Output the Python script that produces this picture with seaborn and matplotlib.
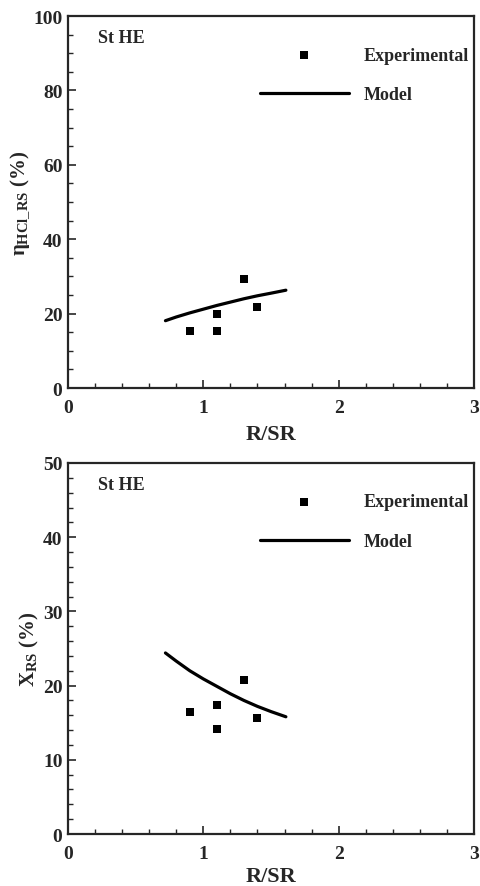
import numpy as np
import pandas as pd
import seaborn as sns
import matplotlib.pyplot as plt
from matplotlib.ticker import MultipleLocator

# Experimental points (R/SR)
exp_rsr = [0.9, 1.1, 1.1, 1.3, 1.4]
eta_exp = [15.4, 19.8, 15.2, 29.3, 21.8]
x_exp = [16.4, 17.4, 14.1, 20.7, 15.7]

# Model curves
model_rsr = [0.72, 0.8, 0.9, 1.0, 1.1, 1.2, 1.3, 1.4, 1.5, 1.61]
eta_model = [18.1, 19.1, 20.2, 21.2, 22.2, 23.1, 24.0, 24.8, 25.5, 26.3]
x_model = [24.4, 23.3, 22.0, 20.9, 19.9, 18.9, 18.0, 17.2, 16.5, 15.8]

sns.set_style("ticks")
plt.rcParams['font.family'] = ['Liberation Serif', 'DejaVu Serif']
plt.rcParams['font.weight'] = 'bold'
plt.rcParams['mathtext.fontset'] = 'custom'
plt.rcParams['mathtext.rm'] = 'Liberation Serif:bold'
plt.rcParams['mathtext.it'] = 'Liberation Serif:bold'

fig = plt.figure(figsize=(4.81, 8.87), dpi=100)
ax1 = fig.add_axes([0.1414, 0.5614, 0.844, 0.4194])
ax2 = fig.add_axes([0.1414, 0.0586, 0.844, 0.4183])

panels = [
    (ax1, eta_exp, eta_model, 100, 20, 5, r"$\eta_{\mathrm{HCl\_RS}}$ (%)", 6),
    (ax2, x_exp, x_model, 50, 10, 2, r"$\mathrm{X}_{\mathrm{RS}}$ (%)", 3),
]

for ax, yexp, ymod, ymax, major, minor, ylab, xpad in panels:
    exp_df = pd.DataFrame({"R/SR": exp_rsr, "val": yexp})
    mod_df = pd.DataFrame({"R/SR": model_rsr, "val": ymod})
    sns.scatterplot(data=exp_df, x="R/SR", y="val", ax=ax, marker="s", s=26,
                    color="black", edgecolor="black", linewidth=0, label="Experimental",
                    zorder=3)
    sns.lineplot(data=mod_df, x="R/SR", y="val", ax=ax, color="black", linewidth=2.3,
                 label="Model")
    ax.set_xlim(0, 3)
    ax.set_ylim(0, ymax)
    ax.xaxis.set_major_locator(MultipleLocator(1))
    ax.xaxis.set_minor_locator(MultipleLocator(0.2))
    ax.yaxis.set_major_locator(MultipleLocator(major))
    ax.yaxis.set_minor_locator(MultipleLocator(minor))
    ax.tick_params(which="major", direction="in", length=6, width=1.2,
                   labelsize=14, pad=4)
    ax.tick_params(axis="x", which="major", pad=8)
    ax.tick_params(which="minor", direction="in", length=3.5, width=1.0)
    for lab in ax.get_xticklabels() + ax.get_yticklabels():
        lab.set_fontweight("bold")
    for sp in ax.spines.values():
        sp.set_linewidth(1.6)
        sp.set_visible(True)
    ax.set_xlabel("R/SR", fontsize=16, fontweight="bold", labelpad=xpad)
    ax.set_ylabel(ylab, fontsize=15, fontweight="bold", labelpad=1)
    ax.text(0.074, 0.942, "St HE", transform=ax.transAxes, fontsize=13,
            fontweight="bold", va="center", ha="left")
    handles, labels = ax.get_legend_handles_labels()
    ax.legend(handles, labels, loc="upper left", bbox_to_anchor=(0.473, 0.918),
              frameon=False, handlelength=4.9, handletextpad=0.83,
              labelspacing=1.25, borderpad=0, borderaxespad=0, scatterpoints=1,
              prop={"weight": "bold", "size": 13})

fig.savefig("out.png", dpi=100)
